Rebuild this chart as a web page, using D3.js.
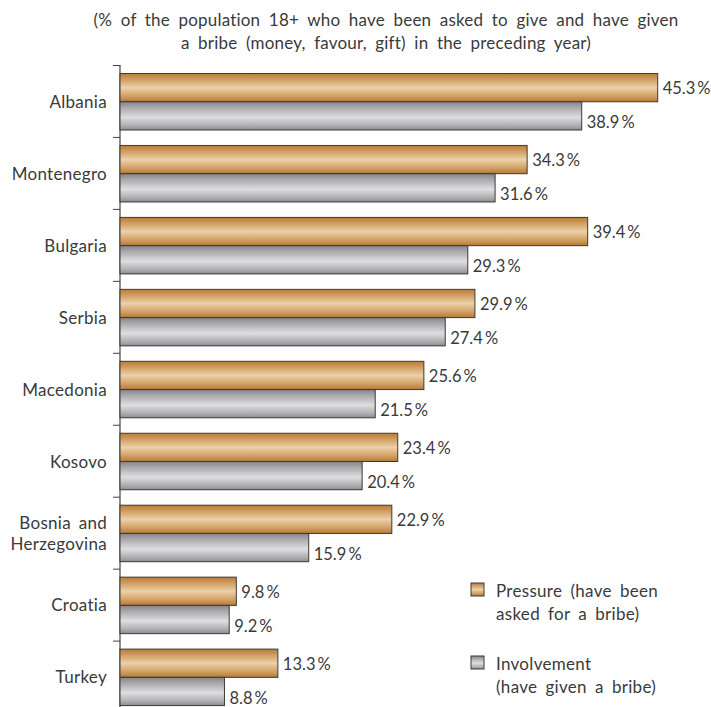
<!DOCTYPE html>
<html>
<head>
<meta charset="utf-8">
<script src="https://cdn.jsdelivr.net/npm/d3@7"></script>
<style>
  html, body { margin: 0; padding: 0; background: #fff; }
  text { font-family: Lato, "Open Sans", sans-serif; fill: #3a3a3a; }
</style>
</head>
<body>
<svg id="chart" width="711" height="707"></svg>
<script>
// Bribery pressure and involvement by country (% of population 18+)
const countries = ["Albania", "Montenegro", "Bulgaria", "Serbia", "Macedonia",
                   "Kosovo", "Bosnia and Herzegovina", "Croatia", "Turkey"];
const pressure    = [45.3, 34.3, 39.4, 29.9, 25.6, 23.4, 22.9, 9.8, 13.3];
const involvement = [38.9, 31.6, 29.3, 27.4, 21.5, 20.4, 15.9, 9.2, 8.8];
const seriesNames = ["Pressure (have been|asked for a bribe)",
                     "Involvement|(have given a bribe)"];
const titleLines = ["(% of the population 18+  who have been asked to give and have given",
                    "a bribe (money, favour, gift) in the preceding year)"];

const svg = d3.select("#chart");
const defs = svg.append("defs");

function barGradient(id, stops) {
  const g = defs.append("linearGradient").attr("id", id)
    .attr("x1", 0).attr("y1", 0).attr("x2", 0).attr("y2", 1);
  stops.forEach(([o, c]) => g.append("stop").attr("offset", o).attr("stop-color", c));
}
barGradient("gradP", [[0, "#b57d39"], [0.2, "#cf9c5f"], [0.5, "#ecd0a9"], [0.8, "#d2a064"], [1, "#b27a36"]]);
barGradient("gradI", [[0, "#838388"], [0.2, "#a8a8ad"], [0.55, "#dededf"], [0.85, "#aeaeb2"], [1, "#8b8b90"]]);

const axisX = 120;
const x = d3.scaleLinear().domain([0, 45.3]).range([axisX, 657.7]);
const y = d3.scaleBand().domain(countries).range([65, 65 + 71.95 * countries.length]);
const inner = d3.scaleBand().domain(["p", "i"]).range([8.5, 8.5 + 56.5]);

// title
svg.append("g").selectAll("text").data(titleLines).join("text")
  .attr("x", 386).attr("y", (d, i) => 25.5 + i * 23.5)
  .attr("text-anchor", "middle")
  .style("font-size", "17px")
  .style("word-spacing", "4px")
  .style("letter-spacing", "0.2px")
  .text(d => d);

// category axis with ticks at group boundaries
const axisG = svg.append("g");
axisG.append("line")
  .attr("x1", axisX).attr("x2", axisX)
  .attr("y1", y.range()[0]).attr("y2", y.range()[1])
  .attr("stroke", "#444").attr("stroke-width", 1.2);
axisG.selectAll("line.tick").data(countries).join("line").attr("class", "tick")
  .attr("x1", axisX - 7).attr("x2", axisX)
  .attr("y1", d => y(d) + 0.5).attr("y2", d => y(d) + 0.5)
  .attr("stroke", "#444").attr("stroke-width", 1);

// category labels (long names wrapped onto two lines)
const labelG = svg.append("g");
countries.forEach(c => {
  const cy = y(c) + inner("p") + inner.bandwidth();
  const parts = c === "Bosnia and Herzegovina" ? ["Bosnia and", "Herzegovina"] : [c];
  const t = labelG.append("text")
    .attr("x", 107).attr("text-anchor", "end")
    .style("font-size", "17px")
    .style("word-spacing", "3px")
    .style("letter-spacing", "0.3px");
  parts.forEach((p, i) => {
    t.append("tspan").attr("x", 107)
      .attr("y", cy + 6 + (i - (parts.length - 1) / 2) * 21)
      .text(p);
  });
});

// bars
const rows = countries.map((c, i) => ({ c, p: pressure[i], v: involvement[i] }));
const fmt = v => v.toFixed(1) + "\u2009%";
const barsG = svg.append("g");
[["p", "p", "url(#gradP)"], ["i", "v", "url(#gradI)"]].forEach(([key, field, fill]) => {
  barsG.selectAll("rect." + key).data(rows).join("rect").attr("class", key)
    .attr("x", axisX)
    .attr("y", d => y(d.c) + inner(key))
    .attr("width", d => x(d[field]) - axisX)
    .attr("height", inner.bandwidth())
    .attr("fill", fill)
    .attr("stroke", "#3a3a3a").attr("stroke-width", 1);
  barsG.selectAll("text." + key).data(rows).join("text").attr("class", key)
    .attr("x", d => x(d[field]) + 5)
    .attr("y", d => y(d.c) + inner(key) + inner.bandwidth() / 2 + (key === "p" ? 6.5 : 12.5))
    .style("font-size", "16.5px")
    .text(d => fmt(d[field]));
});

// legend
const legend = svg.append("g");
[["url(#gradP)", 583], ["url(#gradI)", 656]].forEach(([fill, ly], i) => {
  legend.append("rect").attr("x", 471).attr("y", ly).attr("width", 13).attr("height", 13)
    .attr("fill", fill).attr("stroke", "#3a3a3a").attr("stroke-width", 1);
  const lines = seriesNames[i].split("|");
  lines.forEach((l, j) => {
    legend.append("text").attr("x", 496).attr("y", ly + 14 + j * 22.5)
      .style("font-size", "17px").style("word-spacing", "3.5px")
      .style("letter-spacing", "0.3px")
      .text(l);
  });
});
</script>
</body>
</html>
